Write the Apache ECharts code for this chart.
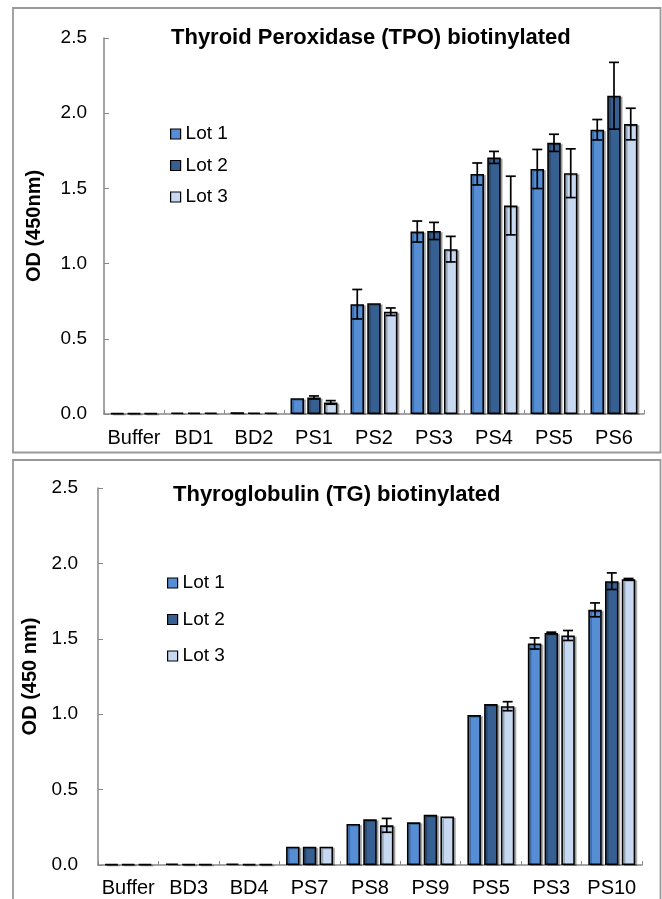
<!DOCTYPE html>
<html><head><meta charset="utf-8">
<script src="https://cdn.jsdelivr.net/npm/echarts@6/dist/echarts.min.js"></script>
<style>html,body{margin:0;padding:0;background:#fff}#c{width:662px;height:899px}</style>
</head><body><div id="c"></div>
<script>
const lots = ['Lot 1','Lot 2','Lot 3'];
const colors = ['#558ed5','#376092','#c6d9f1'];
const yTicks = [0, 0.5, 1.0, 1.5, 2.0, 2.5];

const tpoCats = ['Buffer','BD1','BD2','PS1','PS2','PS3','PS4','PS5','PS6'];
const tpoLot1 = [0.005, 0.01, 0.012, 0.105, 0.73, 1.213, 1.596, 1.629, 1.89];
const tpoLot2 = [0.005, 0.01, 0.01, 0.11, 0.737, 1.217, 1.706, 1.803, 2.116];
const tpoLot3 = [0.005, 0.01, 0.01, 0.077, 0.68, 1.096, 1.386, 1.601, 1.928];
const tpoErr1 = [0, 0, 0, 0, 0.098, 0.07, 0.073, 0.13, 0.068];
const tpoErr2 = [0, 0, 0, 0.01, 0, 0.057, 0.04, 0.057, 0.222];
const tpoErr3 = [0, 0, 0, 0.012, 0.025, 0.085, 0.195, 0.162, 0.105];

const tgCats = ['Buffer','BD3','BD4','PS7','PS8','PS9','PS5','PS3','PS10'];
const tgLot1 = [0.005, 0.01, 0.01, 0.121, 0.272, 0.283, 0.994, 1.469, 1.692];
const tgLot2 = [0.005, 0.005, 0.005, 0.121, 0.303, 0.333, 1.067, 1.539, 1.882];
const tgLot3 = [0.005, 0.005, 0.005, 0.121, 0.263, 0.322, 1.053, 1.522, 1.895];
const tgErr1 = [0, 0, 0, 0, 0, 0, 0, 0.037, 0.046];
const tgErr2 = [0, 0, 0, 0, 0, 0, 0, 0.005, 0.055];
const tgErr3 = [0, 0, 0, 0, 0.046, 0, 0.03, 0.033, 0.005];

const BAR_W = 13.5, GAP_PCT = 0.24;
const FONT = 'Liberation Sans, Arial, sans-serif';

function errSeries(name, vals, errs, lotIdx, gi) {
  return {
    type: 'custom', name: name + ' err', xAxisIndex: gi, yAxisIndex: gi, z: 10, silent: true,
    data: vals.map((v, i) => [i, v, errs[i]]),
    renderItem: function (params, api) {
      const e = api.value(2);
      if (!e) return null;
      const x = api.value(0), v = api.value(1);
      const off = (lotIdx - 1) * (BAR_W + BAR_W * GAP_PCT);
      const hi = api.coord([x, v + e]);
      const lo = api.coord([x, Math.max(0, v - e)]);
      const cx = hi[0] + off;
      const cap = 5;
      const st = { stroke: '#000', lineWidth: 1.7 };
      return { type: 'group', children: [
        { type: 'line', shape: { x1: cx, y1: hi[1], x2: cx, y2: lo[1] }, style: st },
        { type: 'line', shape: { x1: cx - cap, y1: hi[1], x2: cx + cap, y2: hi[1] }, style: st },
        { type: 'line', shape: { x1: cx - cap, y1: lo[1], x2: cx + cap, y2: lo[1] }, style: st }
      ]};
    }
  };
}

function barSeries(name, vals, lotIdx, gi) {
  return {
    type: 'bar', name: name, xAxisIndex: gi, yAxisIndex: gi, data: vals,
    barWidth: BAR_W, barGap: (GAP_PCT * 100) + '%',
    itemStyle: { color: colors[lotIdx], borderColor: '#000', borderWidth: 1.6,
      shadowColor: 'rgba(0,0,0,0.25)', shadowOffsetX: 2, shadowOffsetY: 1, shadowBlur: 0 }
  };
}

function xAxis(cats, gi, m) {
  return { type: 'category', gridIndex: gi, data: cats,
    axisLine: { lineStyle: { color: '#888', width: 1.5 } },
    axisTick: { show: true, inside: true, length: 4, lineStyle: { color: '#888' } },
    axisLabel: { color: '#000', fontSize: 20, fontFamily: FONT, margin: m, interval: 0 } };
}
function yAxis(gi, nm, gap, lm) {
  return { type: 'value', gridIndex: gi, min: 0, max: 2.5, interval: 0.5,
    name: nm, nameLocation: 'middle', nameGap: gap,
    nameTextStyle: { fontSize: 20, fontWeight: 'bold', fontFamily: FONT, color: '#000' },
    axisLine: { show: true, lineStyle: { color: '#888', width: 1.5 } },
    axisTick: { show: true, inside: true, length: 5, lineStyle: { color: '#888' } },
    splitLine: { show: false },
    axisLabel: { color: '#000', fontSize: 19, fontFamily: FONT, margin: lm,
      formatter: v => yTicks.includes(v) ? v.toFixed(1) : '' } };
}

const legendBase = { data: lots, orient: 'vertical', padding: 0, itemWidth: 10, itemHeight: 10,
  icon: 'rect', textStyle: { fontSize: 19, fontFamily: FONT, color: '#000', lineHeight: 20 },
  itemStyle: { borderColor: '#000', borderWidth: 1.2 } };

const chart = echarts.init(document.getElementById('c'), null, { renderer: 'canvas' });
chart.setOption({
  animation: false,
  backgroundColor: '#fff',
  graphic: [
    { type: 'rect', shape: { x: 13, y: 8, width: 647.5, height: 444.5 }, style: { fill: 'none', stroke: '#999', lineWidth: 1.8 }, z: -1 },
    { type: 'rect', shape: { x: 13, y: 460, width: 647.5, height: 450 }, style: { fill: 'none', stroke: '#999', lineWidth: 1.8 }, z: -1 }
  ],
  title: [
    { text: 'Thyroid Peroxidase (TPO) biotinylated', left: 171, top: 27, padding: 0,
      textStyle: { fontSize: 22, fontWeight: 'bold', fontFamily: FONT, color: '#000' } },
    { text: 'Thyroglobulin (TG) biotinylated', left: 173, top: 484, padding: 0,
      textStyle: { fontSize: 22, fontWeight: 'bold', fontFamily: FONT, color: '#000' } }
  ],
  legend: [
    Object.assign({}, legendBase, { left: 170, top: 124, itemGap: 11.5 }),
    Object.assign({}, legendBase, { left: 167, top: 573, itemGap: 16.5 })
  ],
  grid: [
    { left: 104, top: 38, width: 540, height: 376 },
    { left: 98, top: 488, width: 544, height: 377 }
  ],
  xAxis: [xAxis(tpoCats, 0, 14), xAxis(tgCats, 1, 13)],
  yAxis: [yAxis(0, 'OD (450nm)', 60, 17), yAxis(1, 'OD (450 nm)', 55, 20)],
  series: [
    barSeries('Lot 1', tpoLot1, 0, 0), barSeries('Lot 2', tpoLot2, 1, 0), barSeries('Lot 3', tpoLot3, 2, 0),
    barSeries('Lot 1', tgLot1, 0, 1), barSeries('Lot 2', tgLot2, 1, 1), barSeries('Lot 3', tgLot3, 2, 1),
    errSeries('Lot 1', tpoLot1, tpoErr1, 0, 0), errSeries('Lot 2', tpoLot2, tpoErr2, 1, 0), errSeries('Lot 3', tpoLot3, tpoErr3, 2, 0),
    errSeries('Lot 1', tgLot1, tgErr1, 0, 1), errSeries('Lot 2', tgLot2, tgErr2, 1, 1), errSeries('Lot 3', tgLot3, tgErr3, 2, 1)
  ]
});
</script></body></html>
